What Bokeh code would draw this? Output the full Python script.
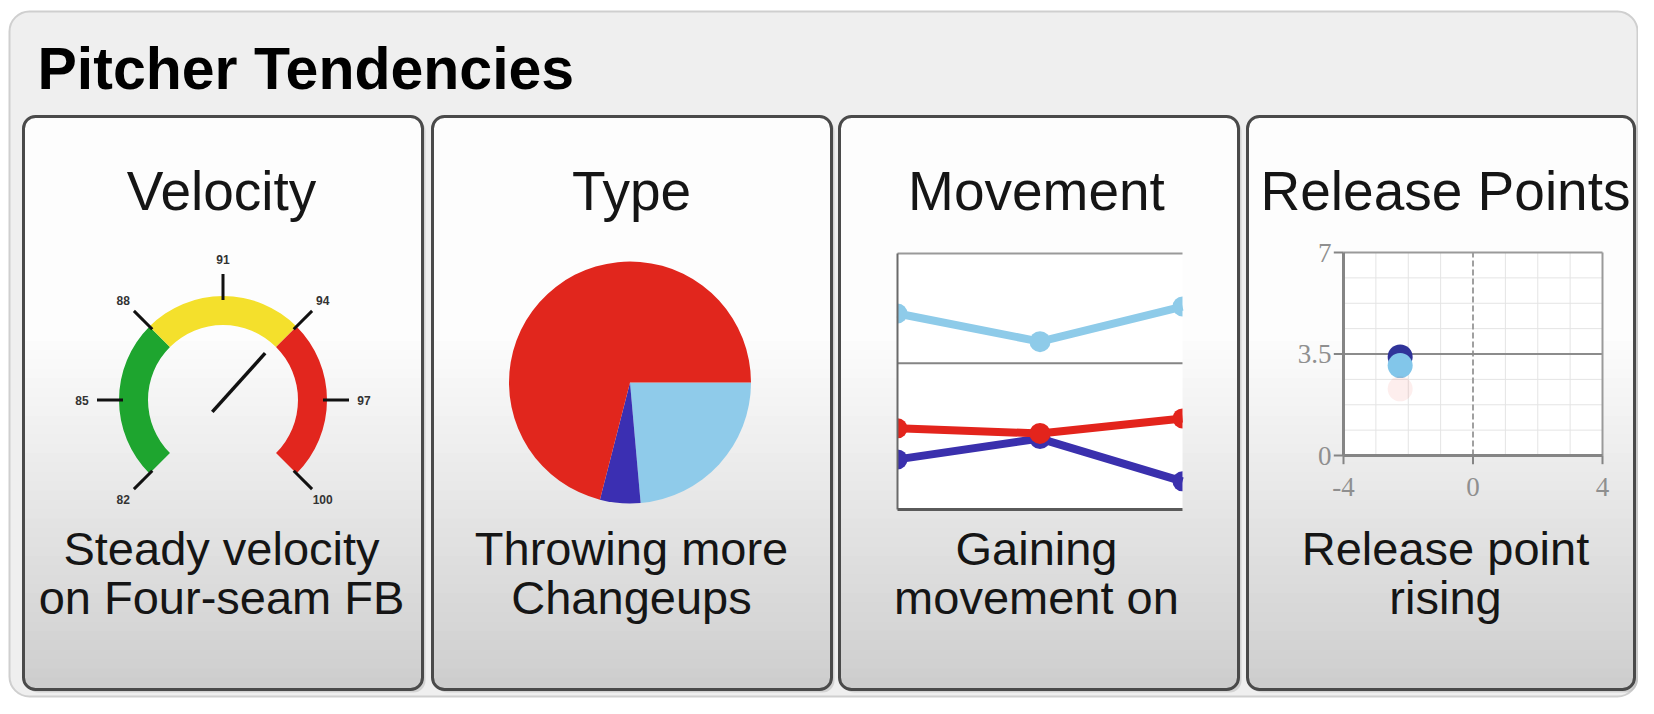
import math
from bokeh.plotting import figure
from bokeh.models import Range1d
from bokeh.embed import file_html
from bokeh.resources import INLINE
from bokeh.core.properties import value

# ---------------- data ----------------
title = "Pitcher Tendencies"
card_titles = ["Velocity", "Type", "Movement", "Release Points"]
note_line1 = ["Steady velocity", "Throwing more", "Gaining", "Release point"]
note_line2 = ["on Four-seam FB", "Changeups", "movement on", "rising"]

gauge_ticks = [82, 85, 88, 91, 94, 97, 100]
gauge_labels = ["82", "85", "88", "91", "94", "97", "100"]
zone_lo = [82, 88, 94]
zone_hi = [88, 94, 100]
zone_colors = ["#1ea52f", "#f4e02c", "#e2261e"]
gauge_value = 93.8

pitch_names = ["Changeup", "Curveball", "Four-seam FB"]
pitch_share = [23.6, 5.4, 71.0]
pitch_colors = ["#8fcbea", "#3b2fb2", "#e1261d"]

move_x = [0, 1, 2]
move_light = [5.36, 4.59, 5.55]
move_dark = [1.37, 1.94, 0.77]
move_red = [2.22, 2.08, 2.49]
move_grid = [4]
move_colors = {"light": "#8ecbe9", "dark": "#3a30ad", "red": "#e3241c"}

rel_x_ticks = [-4, 0, 4]
rel_x_labels = ["-4", "0", "4"]
rel_y_ticks = [0, 3.5, 7]
rel_y_labels = ["0", "3.5", "7"]
rel_minor_x = [-3, -2, -1, 1, 2, 3]
rel_minor_y = [0.875, 1.75, 2.625, 4.375, 5.25, 6.125]
rel_x = [-2.25, -2.25, -2.25]
rel_y = [3.4, 3.1, 2.3]
rel_colors = ["#2f3399", "#82c6ea", "#e3241c"]
rel_alpha = [1.0, 1.0, 0.08]

# ---------------- layout helpers (reference px -> figure coords) ----------------
W, H = 1638, 698
def X(sx): return sx
def Y(sy): return H - sy
BASE = 0.38  # alphabetic baseline correction (em)

def mk_range(d0, d1, p0, p1, total):
    s = (d1 - d0) / (p1 - p0)
    start = d0 - p0 * s
    return Range1d(start, start + total * s)

p = figure(width=W, height=H, x_range=Range1d(0, W), y_range=Range1d(0, H),
           output_backend="svg", toolbar_location=None, min_border=0,
           x_axis_location=None, y_axis_location=None,
           outline_line_color=None, background_fill_color="white")
p.grid.visible = False

p.extra_x_ranges = {
    "mv_x": mk_range(0, 2, X(897), X(1182), W),
    "rp_x": mk_range(-4, 4, X(1343), X(1602), W),
}
p.extra_y_ranges = {
    "mv_y": mk_range(0, 7, Y(509), Y(253), H),
    "rp_y": mk_range(0, 7, Y(455), Y(252), H),
}

# outer panel
p.quad(left=X(9), right=X(1637), top=Y(11), bottom=Y(696),
       fill_color="#efefef", line_color="#cfcfcf", line_width=2, border_radius=20)

fs_title = 59
p.text(x=[X(37)], y=[Y(91) + BASE * fs_title], text=[title], text_font=value("Liberation Sans"),
       text_font_style="bold", text_font_size=f"{fs_title}px", text_color="#000000",
       text_baseline="alphabetic", text_align="left")

# cards
card_left = [23, 432, 839, 1247]
card_right = [422, 831, 1238, 1634]
card_top, card_bot = 116, 689
R = 12

def shade(t):
    if t < 0.38:
        v = 253
    else:
        u = (t - 0.38) / 0.62
        v = 253 - u * 48
    v = int(round(v))
    return "#%02x%02x%02x" % (v, v, v)

p.quad(left=[X(l + 3) for l in card_left], right=[X(r + 3) for r in card_right],
       top=Y(card_top + 3), bottom=Y(card_bot + 3), fill_color="#b8b8b8",
       fill_alpha=0.5, line_color=None, border_radius=R)
p.quad(left=[X(l) for l in card_left], right=[X(r) for r in card_right],
       top=Y(card_top), bottom=Y(card_bot), fill_color=shade(1.0),
       line_color=None, border_radius=R)
N = 60
span = (card_bot - R) - card_top
L, Rr, T, B, C = [], [], [], [], []
for k in range(N - 1, -1, -1):
    bot = card_top + (k + 1) * span / N
    mid = card_top + (k + 0.5) * span / N
    t = (mid - card_top) / (card_bot - card_top)
    for l, r in zip(card_left, card_right):
        L.append(X(l)); Rr.append(X(r)); T.append(Y(card_top)); B.append(Y(bot))
        C.append(shade(t))
p.quad(left=L, right=Rr, top=T, bottom=B, fill_color=C, line_color=None,
       border_radius=(R, R, 0, 0))
p.quad(left=[X(l) for l in card_left], right=[X(r) for r in card_right],
       top=Y(card_top), bottom=Y(card_bot), fill_color=None,
       line_color="#4a4a4a", line_width=3, border_radius=R)

centers = [X(c) for c in [221, 631, 1036, 1445]]
fs_ct, fs_note = 55, 47
p.text(x=centers, y=[Y(211) + BASE * fs_ct] * 4, text=card_titles, text_font=value("Liberation Sans"),
       text_font_size=f"{fs_ct}px", text_color="#151515", text_align="center",
       text_baseline="alphabetic")
p.text(x=centers, y=[Y(566) + BASE * fs_note] * 4, text=note_line1, text_font=value("Liberation Sans"),
       text_font_size=f"{fs_note}px", text_color="#151515", text_align="center",
       text_baseline="alphabetic")
p.text(x=centers, y=[Y(615) + BASE * fs_note] * 4, text=note_line2, text_font=value("Liberation Sans"),
       text_font_size=f"{fs_note}px", text_color="#151515", text_align="center",
       text_baseline="alphabetic")

# ---------------- gauge ----------------
gcx, gcy = X(222.5), Y(399.5)
gmin, gmax = gauge_ticks[0], gauge_ticks[-1]
def gang(v):
    return math.radians(225 - (v - gmin) / (gmax - gmin) * 270)

p.annular_wedge(x=[gcx] * 3, y=[gcy] * 3, inner_radius=75, outer_radius=104,
                inner_radius_units="screen", outer_radius_units="screen",
                start_angle=[gang(h) for h in zone_hi], end_angle=[gang(l) for l in zone_lo],
                fill_color=zone_colors, line_color=None, direction="anticlock")
ta = [gang(v) for v in gauge_ticks]
p.segment(x0=[gcx + 100 * math.cos(a) for a in ta], y0=[gcy + 100 * math.sin(a) for a in ta],
          x1=[gcx + 126 * math.cos(a) for a in ta], y1=[gcy + 126 * math.sin(a) for a in ta],
          line_color="#111111", line_width=3)
p.text(x=[gcx + 141 * math.cos(a) for a in ta], y=[gcy + 141 * math.sin(a) for a in ta],
       text=gauge_labels, text_font=value("Liberation Sans"), text_font_style="bold",
       text_font_size="12px", text_color="#333333", text_align="center", text_baseline="middle")
na = gang(gauge_value)
p.segment(x0=[gcx - 16 * math.cos(na)], y0=[gcy - 16 * math.sin(na)],
          x1=[gcx + 63 * math.cos(na)], y1=[gcy + 63 * math.sin(na)],
          line_color="#111111", line_width=3.5)

# ---------------- pie ----------------
tot = sum(pitch_share)
starts, ends, acc = [], [], 0.0
for v in pitch_share:
    a0 = -acc / tot * 2 * math.pi
    acc += v
    a1 = -acc / tot * 2 * math.pi
    starts.append(a1); ends.append(a0)
p.wedge(x=[X(629.5)] * 3, y=[Y(382)] * 3, radius=121, radius_units="screen",
        start_angle=starts, end_angle=ends, direction="anticlock",
        fill_color=pitch_colors, line_color=None)

# ---------------- movement lines ----------------
mv = dict(x_range_name="mv_x", y_range_name="mv_y")
p.quad(left=0, right=2, bottom=0, top=7, fill_color="white", line_color=None, **mv)
p.segment(x0=0, y0=7, x1=2, y1=7, line_color="#9a9a9a", line_width=2, **mv)
p.segment(x0=[0] * len(move_grid), y0=move_grid, x1=[2] * len(move_grid), y1=move_grid,
          line_color="#858585", line_width=2, **mv)
for ys, key in [(move_light, "light"), (move_dark, "dark"), (move_red, "red")]:
    col = move_colors[key]
    p.line(move_x, ys, line_color=col, line_width=8, **mv)
    p.wedge(x=[move_x[0]], y=[ys[0]], radius=10, radius_units="screen",
            start_angle=-math.pi / 2, end_angle=math.pi / 2, fill_color=col, line_color=None, **mv)
    p.wedge(x=[move_x[-1]], y=[ys[-1]], radius=10, radius_units="screen",
            start_angle=math.pi / 2, end_angle=3 * math.pi / 2, fill_color=col, line_color=None, **mv)
    p.scatter(move_x[1:-1], ys[1:-1], size=21, marker="circle", fill_color=col,
              line_color=None, **mv)
p.segment(x0=0, y0=0, x1=0, y1=7, line_color="#6a6a6a", line_width=2, **mv)
p.segment(x0=0, y0=0, x1=2, y1=0, line_color="#5a5a5a", line_width=3, **mv)

# ---------------- release points ----------------
rp = dict(x_range_name="rp_x", y_range_name="rp_y")
p.quad(left=-4, right=4, bottom=0, top=7, fill_color="white", line_color=None, **rp)
p.segment(x0=rel_minor_x, y0=[0] * 6, x1=rel_minor_x, y1=[7] * 6,
          line_color="#e4e4e4", line_width=1, **rp)
p.segment(x0=[-4] * 6, y0=rel_minor_y, x1=[4] * 6, y1=rel_minor_y,
          line_color="#e4e4e4", line_width=1, **rp)
p.segment(x0=0, y0=0, x1=0, y1=7, line_color="#a0a0a0", line_width=2, line_dash="6 3", **rp)
p.segment(x0=-4, y0=3.5, x1=4, y1=3.5, line_color="#8c8c8c", line_width=2, **rp)
p.segment(x0=-4, y0=7, x1=4, y1=7, line_color="#9a9a9a", line_width=2, **rp)
p.segment(x0=4, y0=0, x1=4, y1=7, line_color="#9a9a9a", line_width=2, **rp)
p.segment(x0=-4, y0=0, x1=-4, y1=7, line_color="#858585", line_width=3, **rp)
p.segment(x0=-4, y0=0, x1=4, y1=0, line_color="#858585", line_width=3, **rp)
p.segment(x0=[-4.3] * 3, y0=rel_y_ticks, x1=[-4] * 3, y1=rel_y_ticks,
          line_color="#858585", line_width=2, **rp)
p.segment(x0=rel_x_ticks, y0=[0] * 3, x1=rel_x_ticks, y1=[-0.3] * 3,
          line_color="#858585", line_width=2, **rp)
p.text(x=[-4] * 3, y=rel_y_ticks, text=rel_y_labels, x_offset=-12,
       text_font=value("Liberation Serif"), text_font_size="27px", text_color="#8f8f8f",
       text_align="right", text_baseline="middle", **rp)
p.text(x=rel_x_ticks, y=[0] * 3, text=rel_x_labels, y_offset=31,
       text_font=value("Liberation Serif"), text_font_size="27px", text_color="#8f8f8f",
       text_align="center", text_baseline="middle", **rp)
p.scatter(rel_x, rel_y, size=25, marker="circle", fill_color=rel_colors,
          fill_alpha=rel_alpha, line_color=None, **rp)

open("out.html", "w").write(file_html(p, INLINE))
